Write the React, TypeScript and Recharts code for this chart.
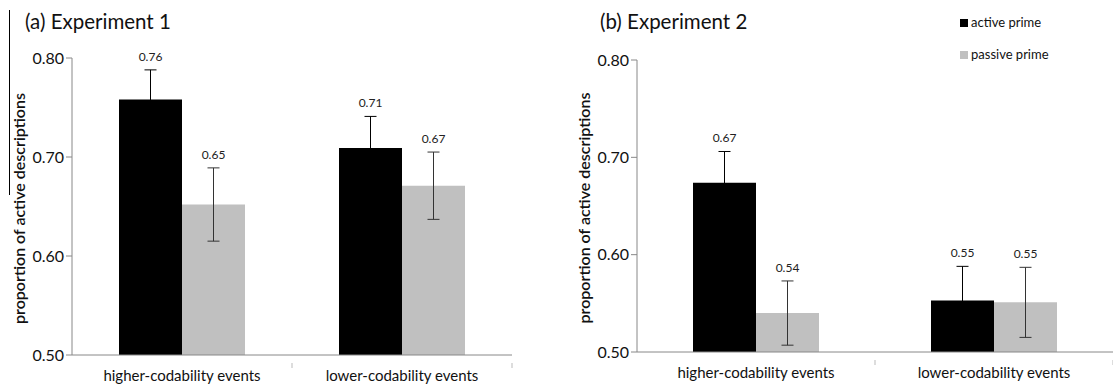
import React from "react"
import { BarChart, Bar, XAxis, YAxis, ErrorBar, LabelList } from "recharts"

const categories = ["higher-codability events", "lower-codability events"]
const yTicks = [0.5, 0.6, 0.7, 0.8]

// Experiment 1
const exp1Active = [0.758, 0.709]
const exp1ActiveErr = [0.03, 0.032]
const exp1Passive = [0.652, 0.671]
const exp1PassiveErr = [0.037, 0.034]

// Experiment 2
const exp2Active = [0.674, 0.553]
const exp2ActiveErr = [0.032, 0.035]
const exp2Passive = [0.54, 0.551]
const exp2PassiveErr = [0.033, 0.036]

const FONT = "Lato, 'Open Sans', sans-serif"
const H = 384

const build = (act: number[], actErr: number[], pas: number[], pasErr: number[]) =>
  categories.map((name, i) => ({
    name,
    active: act[i],
    activeErr: actErr[i],
    passive: pas[i],
    passiveErr: pasErr[i],
  }))

const exp1Data = build(exp1Active, exp1ActiveErr, exp1Passive, exp1PassiveErr)
const exp2Data = build(exp2Active, exp2ActiveErr, exp2Passive, exp2PassiveErr)

const CatTick = (props: any) => {
  const { x, y, payload } = props
  const edge = x + (payload.offset || 0)
  return (
    <g>
      <line x1={edge} x2={edge} y1={y} y2={y + 5} stroke="#bbb" />
      <text x={x} y={y + 18} textAnchor="middle" fontSize={15} fill="#111" fontFamily={FONT}>
        {payload.value}
      </text>
    </g>
  )
}

const makeLabel = (errs: number[]) => (props: any) => {
  const { x, y, width, height, value, index } = props
  const perUnit = height / (value - 0.5)
  const top = y - errs[index] * perUnit
  return (
    <text x={x + width / 2} y={top - 9} textAnchor="middle" fontSize={12} fill="#222" fontFamily={FONT}>
      {value.toFixed(2)}
    </text>
  )
}

const yTitle = (cx: number, cy: number) => () => (
  <text
    x={cx}
    y={cy}
    transform={`rotate(-90 ${cx} ${cy})`}
    textAnchor="middle"
    dominantBaseline="central"
    fontSize={16}
    fontWeight={600}
    fill="#111"
    fontFamily={FONT}
  >
    proportion of active descriptions
  </text>
)

type PanelProps = {
  data: any[]
  width: number
  yAxisWidth: number
  top: number
  bottom: number
  right: number
  labelOffset: number
  labelErrActive: number[]
  labelErrPassive: number[]
}

const Panel = ({ data, width, yAxisWidth, top, bottom, right, labelOffset, labelErrActive, labelErrPassive }: PanelProps) => (
  <BarChart width={width} height={H} data={data} margin={{ top, right, bottom: 0, left: 0 }} barGap={0} barSize={63}>
    <XAxis
      dataKey="name"
      axisLine={{ stroke: "#888" }}
      tickLine={false}
      tick={<CatTick />}
      interval={0}
      height={bottom}
    />
    <YAxis
      domain={[0.5, 0.8]}
      ticks={yTicks}
      width={yAxisWidth}
      axisLine={{ stroke: "#888" }}
      tickLine={{ stroke: "#888" }}
      tickSize={6}
      tickFormatter={(v: number) => v.toFixed(2)}
      tick={{ fontSize: 16, fill: "#111", fontFamily: FONT }}
      label={{ content: yTitle(labelOffset, top + (H - top - bottom) / 2 + 2) } as any}
    />
    <Bar dataKey="active" fill="#000" isAnimationActive={false}>
      <ErrorBar dataKey="activeErr" width={6} stroke="#000" strokeWidth={1} />
      <LabelList dataKey="active" content={makeLabel(labelErrActive)} />
    </Bar>
    <Bar dataKey="passive" fill="#c0c0c0" isAnimationActive={false}>
      <ErrorBar dataKey="passiveErr" width={6} stroke="#333" strokeWidth={1} />
      <LabelList dataKey="passive" content={makeLabel(labelErrPassive)} />
    </Bar>
  </BarChart>
)

export default function App() {
  return (
    <div style={{ position: "absolute", left: 0, top: 0, width: 1113, height: H, background: "#fff", fontFamily: FONT }}>
      <div style={{ position: "absolute", left: 9, top: 10, width: 1, height: 185, background: "#000" }} />
      <div style={{ position: "absolute", left: 0, top: 0 }}>
        <Panel
          data={exp1Data}
          width={560}
          yAxisWidth={72}
          top={58}
          bottom={29}
          right={48}
          labelOffset={18}
          labelErrActive={exp1ActiveErr}
          labelErrPassive={exp1PassiveErr}
        />
      </div>
      <div style={{ position: "absolute", left: 560, top: 0 }}>
        <Panel
          data={exp2Data}
          width={553}
          yAxisWidth={77}
          top={60}
          bottom={32}
          right={0}
          labelOffset={23}
          labelErrActive={exp2ActiveErr}
          labelErrPassive={exp2PassiveErr}
        />
      </div>
      <div style={{ position: "absolute", left: 25, top: 9, fontSize: 20.5, color: "#111", whiteSpace: "nowrap" }}>
        (a) Experiment 1
      </div>
      <div style={{ position: "absolute", left: 600, top: 9, fontSize: 20.5, color: "#111", whiteSpace: "nowrap" }}>
        (b) Experiment 2
      </div>
      <div style={{ position: "absolute", left: 960, top: 14, fontSize: 13, color: "#111", lineHeight: "17px" }}>
        <div style={{ display: "flex", alignItems: "center", gap: 3, whiteSpace: "nowrap" }}>
          <span style={{ width: 8, height: 8, background: "#000", display: "inline-block" }} />
          active prime
        </div>
        <div style={{ display: "flex", alignItems: "center", gap: 3, marginTop: 15, whiteSpace: "nowrap" }}>
          <span style={{ width: 8, height: 8, background: "#c0c0c0", display: "inline-block" }} />
          passive prime
        </div>
      </div>
    </div>
  )
}
